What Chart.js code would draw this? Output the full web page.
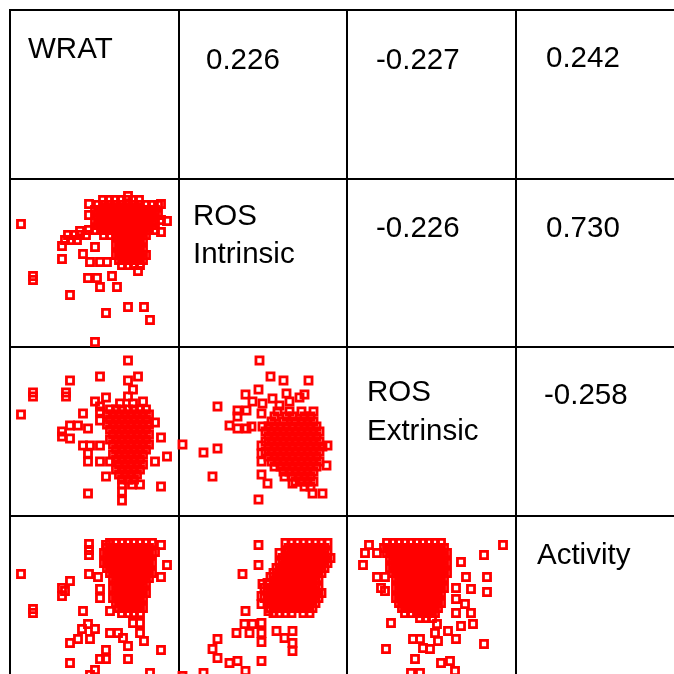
<!DOCTYPE html>
<html>
<head>
<meta charset="utf-8">
<script src="https://cdn.jsdelivr.net/npm/chart.js@4.4.1/dist/chart.umd.min.js"></script>
<style>
  html, body { margin: 0; padding: 0; background: #fff; overflow: hidden; }
  #wrap { position: relative; width: 674px; height: 674px; overflow: hidden; }
  #matrix { position: absolute; left: 0; top: 0; }
  .lbl { position: absolute; font: 29.5px/38.5px "Liberation Sans", Arial, sans-serif; color: #000; white-space: pre; }
</style>
</head>
<body>
<div id="wrap"><canvas id="matrix" width="694" height="694"></canvas></div>
<script>
// variable names on the diagonal, correlations in the upper panels (row by row)
const variables = ['WRAT', 'ROS\nIntrinsic', 'ROS\nExtrinsic', 'Activity'];
const correlations = ['0.226', '-0.227', '0.242', '-0.226', '0.730', '-0.258'];

// lower panels, values in cell units (0 - 168.5)
const wratVsIntrinsic = [
  [93,147],[99,147],[105,147],[111,147],[117,147],[123,147],[129,147],
  [88,142],[94,142],[100,142],[106,142],[112,142],[118,142],[124,142],[130,142],[136,142],[142,142],[148,142],
  [85,137],[91,137],[97,137],[103,137],[109,137],[115,137],[121,137],[127,137],[133,137],[139,137],[145,137],
  [88,132],[94,132],[100,132],[106,132],[112,132],[118,132],[124,132],[130,132],[136,132],[142,132],[148,132],
  [85,127],[91,127],[97,127],[103,127],[109,127],[115,127],[121,127],[127,127],[133,127],[139,127],[145,127],[151,127],
  [88,122],[94,122],[100,122],[106,122],[112,122],[118,122],[124,122],[130,122],[136,122],[142,122],
  [79,117],[85,117],[91,117],[97,117],[103,117],[109,117],[115,117],[121,117],[127,117],[133,117],[139,117],[145,117],
  [58,112],[64,112],[70,112],[76,112],[94,112],[100,112],[106,112],[112,112],[118,112],[124,112],[130,112],[136,112],
  [55,107],[61,107],[67,107],[109,107],[115,107],[121,107],[127,107],[133,107],
  [106,102],[112,102],[118,102],[124,102],[130,102],
  [109,97],[115,97],[121,97],[127,97],[133,97],
  [106,92],[112,92],[118,92],[124,92],[130,92],[136,92],
  [109,87],[115,87],[121,87],[127,87],[133,87],
  [112,82],[118,82],[124,82],[130,82],
  [118,151],[151,143],[157,126],[151,115],[79,143],[79,132],[70,116],[11,123],[23,71],[23,67],
  [52,101],[52,88],[60,52],[73,93],[85,100],[80,85],[90,85],[97,85],[78,69],[87,69],
  [90,60],[102,71],[107,60],[128,76],[96,34],[118,40],[134,40],[140,27],[85,5]
];

const wratVsExtrinsic = [
  [100,106],[106,106],[112,106],[118,106],[124,106],[130,106],[136,106],
  [97,101],[103,101],[109,101],[115,101],[121,101],[127,101],[133,101],[139,101],
  [100,96],[106,96],[112,96],[118,96],[124,96],[130,96],[136,96],
  [97,91],[103,91],[109,91],[115,91],[121,91],[127,91],[133,91],[139,91],
  [100,86],[106,86],[112,86],[118,86],[124,86],[130,86],[136,86],
  [103,81],[109,81],[115,81],[121,81],[127,81],[133,81],[139,81],
  [100,76],[106,76],[112,76],[118,76],[124,76],[130,76],[136,76],
  [103,71],[109,71],[115,71],[121,71],[127,71],[133,71],[139,71],
  [106,66],[112,66],[118,66],[124,66],[130,66],[136,66],
  [103,61],[109,61],[115,61],[121,61],[127,61],[133,61],
  [106,56],[112,56],[118,56],[124,56],[130,56],
  [109,51],[115,51],[121,51],[127,51],[133,51],
  [106,46],[112,46],[118,46],[124,46],[130,46],
  [109,41],[115,41],[121,41],[127,41],
  [112,36],[118,36],[124,36],
  [118,155],[60,135],[90,139],[118,135],[128,139],[123,126],[23,123],[23,119],[56,123],[56,119],
  [11,101],[96,118],[118,119],[85,114],[90,109],[110,112],[123,112],[133,114],[73,102],[90,104],
  [90,95],[60,90],[68,90],[78,87],[52,84],[52,79],[60,77],[73,70],[80,70],[90,70],
  [78,62],[78,54],[90,54],[100,54],[145,93],[151,78],[157,59],[145,54],[96,39],[78,22],
  [151,29],[112,31],[112,24],[112,15],[122,31],[130,31]
];

const intrinsicVsExtrinsic = [
  [99,104],[111,104],[123,104],[135,104],
  [96,99],[108,99],[114,99],[126,99],[132,99],
  [93,94],[105,94],[117,94],[123,94],[129,94],[135,94],
  [90,89],[96,89],[102,89],[108,89],[114,89],[120,89],[126,89],[132,89],[138,89],
  [87,84],[93,84],[99,84],[105,84],[111,84],[117,84],[123,84],[129,84],[135,84],[141,84],
  [90,79],[96,79],[102,79],[108,79],[114,79],[120,79],[126,79],[132,79],[138,79],
  [87,74],[93,74],[99,74],[105,74],[111,74],[117,74],[123,74],[129,74],[135,74],[141,74],
  [90,69],[96,69],[102,69],[108,69],[114,69],[120,69],[126,69],[132,69],[138,69],[144,69],
  [87,64],[93,64],[99,64],[105,64],[111,64],[117,64],[123,64],[129,64],[135,64],[141,64],
  [90,59],[96,59],[102,59],[108,59],[114,59],[120,59],[126,59],[132,59],[138,59],
  [93,54],[99,54],[105,54],[111,54],[117,54],[123,54],[129,54],[135,54],[141,54],
  [96,49],[102,49],[108,49],[114,49],[120,49],[126,49],[132,49],[138,49],
  [105,44],[111,44],[117,44],[123,44],[129,44],[135,44],
  [114,39],[120,39],[126,39],[132,39],
  [117,34],[123,34],[129,34],[135,34],
  [126,29],[132,29],
  [81,155],[92,139],[105,135],[130,135],[80,126],[67,121],[108,122],[121,118],[126,121],[39,109],
  [74,114],[84,112],[94,117],[101,110],[111,114],[59,105],[68,105],[51,90],[59,99],[59,87],
  [68,87],[73,89],[83,102],[84,89],[83,70],[83,62],[83,54],[4,71],[25,63],[39,67],
  [34,39],[80,16],[83,41],[89,32],[106,39],[114,32],[134,22],[144,22],[148,50],[149,70]
];

const wratVsActivity = [
  [100,141],[106,141],[112,141],[118,141],[124,141],[130,141],[136,141],[142,141],
  [97,136],[103,136],[109,136],[115,136],[121,136],[127,136],[133,136],[139,136],
  [94,131],[100,131],[106,131],[112,131],[118,131],[124,131],[130,131],[136,131],[142,131],
  [97,126],[103,126],[109,126],[115,126],[121,126],[127,126],[133,126],[139,126],
  [94,121],[100,121],[106,121],[112,121],[118,121],[124,121],[130,121],[136,121],[142,121],
  [97,116],[103,116],[109,116],[115,116],[121,116],[127,116],[133,116],[139,116],
  [100,111],[106,111],[112,111],[118,111],[124,111],[130,111],[136,111],[142,111],
  [103,106],[109,106],[115,106],[121,106],[127,106],[133,106],[139,106],
  [106,101],[112,101],[118,101],[124,101],[130,101],[136,101],
  [103,96],[109,96],[115,96],[121,96],[127,96],[133,96],
  [106,91],[112,91],[118,91],[124,91],[130,91],[136,91],
  [103,86],[109,86],[115,86],[121,86],[127,86],[133,86],
  [106,81],[112,81],[118,81],[124,81],[130,81],
  [109,76],[115,76],[121,76],[127,76],[133,76],
  [112,71],[118,71],[124,71],[130,71],
  [79,140],[79,134],[79,129],[96,139],[151,139],[145,132],[157,119],[151,107],[11,110],[79,110],
  [88,107],[60,103],[52,96],[52,88],[55,93],[90,95],[90,86],[23,75],[23,71],[73,73],
  [100,73],[123,61],[130,61],[130,51],[78,60],[72,55],[85,55],[60,41],[68,45],[80,45],
  [100,51],[108,51],[113,46],[134,43],[118,38],[151,34],[96,34],[90,25],[96,25],[118,25],
  [60,21],[85,14],[140,11],[80,9]
];

const intrinsicVsActivity = [
  [107,141],[113,141],[119,141],[125,141],[131,141],[137,141],[143,141],[149,141],
  [110,136],[116,136],[122,136],[128,136],[134,136],[140,136],[146,136],
  [101,131],[107,131],[113,131],[119,131],[125,131],[131,131],[137,131],[143,131],[149,131],
  [104,126],[110,126],[116,126],[122,126],[128,126],[134,126],[140,126],[146,126],[152,126],
  [101,121],[107,121],[113,121],[119,121],[125,121],[131,121],[137,121],[143,121],[149,121],
  [98,116],[104,116],[110,116],[116,116],[122,116],[128,116],[134,116],[140,116],[146,116],
  [95,111],[101,111],[107,111],[113,111],[119,111],[125,111],[131,111],[137,111],[143,111],
  [98,106],[104,106],[110,106],[116,106],[122,106],[128,106],[134,106],[140,106],
  [89,101],[95,101],[101,101],[107,101],[113,101],[119,101],[125,101],[131,101],[137,101],
  [86,96],[92,96],[98,96],[104,96],[110,96],[116,96],[122,96],[128,96],[134,96],[140,96],
  [89,91],[95,91],[101,91],[107,91],[113,91],[119,91],[125,91],[131,91],[137,91],[143,91],
  [86,86],[92,86],[98,86],[104,86],[110,86],[116,86],[122,86],[128,86],[134,86],[140,86],
  [89,81],[95,81],[101,81],[107,81],[113,81],[119,81],[125,81],[131,81],[137,81],
  [92,76],[98,76],[104,76],[110,76],[116,76],[122,76],[128,76],[134,76],
  [95,71],[101,71],[107,71],[113,71],[125,71],[131,71],
  [80,139],[80,119],[64,110],[92,107],[84,100],[83,88],[83,80],[67,73],[90,73],[66,60],
  [74,60],[83,61],[83,51],[58,51],[71,51],[39,45],[34,35],[39,26],[51,21],[59,23],
  [67,13],[83,42],[83,23],[98,53],[106,46],[114,53],[114,41],[114,33],[25,11],[4,8]
];

const extrinsicVsActivity = [
  [40,141],[46,141],[52,141],[58,141],[64,141],[70,141],[76,141],[82,141],[88,141],[94,141],
  [37,136],[43,136],[49,136],[55,136],[61,136],[67,136],[73,136],[79,136],[85,136],[91,136],[97,136],
  [40,131],[46,131],[52,131],[58,131],[64,131],[70,131],[76,131],[82,131],[88,131],[94,131],[100,131],
  [43,126],[49,126],[55,126],[61,126],[67,126],[73,126],[79,126],[85,126],[91,126],[97,126],
  [46,121],[52,121],[58,121],[64,121],[70,121],[76,121],[82,121],[88,121],[94,121],[100,121],
  [43,116],[49,116],[55,116],[61,116],[67,116],[73,116],[79,116],[85,116],[91,116],[97,116],
  [46,111],[52,111],[58,111],[64,111],[70,111],[76,111],[82,111],[88,111],[94,111],[100,111],
  [49,106],[55,106],[61,106],[67,106],[73,106],[79,106],[85,106],[91,106],[97,106],
  [52,101],[58,101],[64,101],[70,101],[76,101],[82,101],[88,101],[94,101],
  [49,96],[55,96],[61,96],[67,96],[73,96],[79,96],[85,96],[91,96],[97,96],
  [52,91],[58,91],[64,91],[70,91],[76,91],[82,91],[88,91],[94,91],
  [49,86],[55,86],[61,86],[67,86],[73,86],[79,86],[85,86],[91,86],
  [52,81],[58,81],[64,81],[70,81],[76,81],[82,81],[88,81],[94,81],
  [55,76],[61,76],[67,76],[73,76],[79,76],[85,76],[91,76],
  [58,71],[64,71],[70,71],[76,71],[82,71],[88,71],
  [73,66],[79,66],[85,66],
  [22,139],[156,139],[16,119],[18,131],[30,131],[114,122],[137,129],[119,107],[140,107],[30,107],
  [38,107],[34,96],[38,93],[109,96],[124,95],[140,92],[109,85],[118,80],[124,71],[109,71],
  [44,61],[90,60],[101,53],[114,58],[126,60],[88,51],[91,43],[66,45],[73,45],[109,45],
  [137,40],[39,35],[83,35],[76,36],[68,25],[94,21],[103,23],[108,13],[64,11],[73,11]
];

const CELL = 168.5;

const panels = [
  { points: wratVsIntrinsic, col: 0, row: 1 },
  { points: wratVsExtrinsic, col: 0, row: 2 },
  { points: intrinsicVsExtrinsic, col: 1, row: 2 },
  { points: wratVsActivity, col: 0, row: 3 },
  { points: intrinsicVsActivity, col: 1, row: 3 },
  { points: extrinsicVsActivity, col: 2, row: 3 }
];

// one grid scale pair draws the cell borders, the others are hidden and place each panel
const gridLines = { color: '#000', lineWidth: 2, drawTicks: false };
const scales = {
  x: { type: 'linear', position: 'bottom', min: 0, max: 4, ticks: { display: false, stepSize: 1 }, grid: gridLines, border: { color: '#000', width: 2 }, afterFit: s => { s.height = 0; } },
  y: { type: 'linear', position: 'left', min: 0, max: 4, ticks: { display: false, stepSize: 1 }, grid: gridLines, border: { color: '#000', width: 2 }, afterFit: s => { s.width = 0; } }
};
[0, 1, 2].forEach(c => {
  scales['x' + c] = { type: 'linear', display: false, min: -c * CELL, max: (4 - c) * CELL };
});
[1, 2, 3].forEach(r => {
  scales['y' + r] = { type: 'linear', display: false, min: -(3 - r) * CELL, max: (r + 1) * CELL };
});

new Chart(document.getElementById('matrix'), {
  type: 'scatter',
  data: {
    datasets: panels.map(p => ({
      data: p.points.map(([x, y]) => ({ x, y })),
      xAxisID: 'x' + p.col,
      yAxisID: 'y' + p.row,
      pointStyle: 'rect',
      pointRadius: 5,
      pointHoverRadius: 5,
      borderWidth: 2.8,
      pointBorderWidth: 2.8,
      pointHoverBorderWidth: 2.8,
      borderColor: '#ff0000',
      pointBorderColor: '#ff0000',
      pointBackgroundColor: 'rgba(0,0,0,0)'
    }))
  },
  options: {
    responsive: false,
    animation: false,
    devicePixelRatio: 1,
    layout: { padding: 10 },
    scales,
    plugins: { legend: { display: false }, tooltip: { enabled: false } }
  }
});

// text in the diagonal and upper cells
const wrap = document.getElementById('wrap');
const labelSpots = [[28, 28.5], [193, 195.5], [367, 372], [537, 535]];
const corrSpots = [[206, 39.5], [376, 39.5], [546, 37.5], [376, 207.5], [546, 207.5], [544, 374.5]];
function addText(txt, [left, top]) {
  const d = document.createElement('div');
  d.className = 'lbl';
  d.textContent = txt;
  d.style.left = left + 'px';
  d.style.top = top + 'px';
  wrap.appendChild(d);
}
variables.forEach((v, i) => addText(v, labelSpots[i]));
correlations.forEach((v, i) => addText(v, corrSpots[i]));
</script>
</body>
</html>
